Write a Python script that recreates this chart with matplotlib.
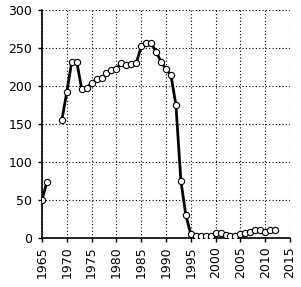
import matplotlib
matplotlib.use("Agg")
import matplotlib.pyplot as plt
import numpy as np

years_a = [1965, 1966]
vals_a = [50, 74]
years_b = list(range(1969, 2013))
vals_b = [155, 192, 232, 232, 196, 198, 204, 209, 210, 217, 221, 223,
          230, 228, 229, 230, 252, 256, 257, 245, 232, 222, 214, 175,
          75, 30, 5, 3, 2, 2, 3, 6, 6, 4, 3, 3, 5, 6, 8, 11, 10, 8, 10, 10]
xticks = list(range(1965, 2016, 5))
yticks = list(range(0, 301, 50))

fig = plt.figure(figsize=(3.01, 2.87), dpi=100)
ax = fig.add_axes([42/301, 1-238/287, (290-42)/301, (238-10)/287])

for xs, ys in [(years_a, vals_a), (years_b, vals_b)]:
    ax.plot(xs, ys, color="black", lw=2.0, marker="o", ms=4.5,
            mfc="white", mec="black", mew=0.8, zorder=3)

ax.set_xlim(1965, 2015)
ax.set_ylim(0, 300)
ax.set_xticks(xticks)
ax.set_yticks(yticks)
ax.set_xticklabels([str(x) for x in xticks], rotation=90, fontsize=9)
ax.tick_params(axis="y", labelsize=9, length=3, width=1, pad=4)
ax.tick_params(axis="x", length=3, width=1, pad=3)
ax.grid(True, color="black", linestyle=(0, (1, 2)), linewidth=0.8)
for s in ["top", "right"]:
    ax.spines[s].set_visible(False)
for s in ["left", "bottom"]:
    ax.spines[s].set_linewidth(1.2)

fig.savefig("out.png", dpi=100)
